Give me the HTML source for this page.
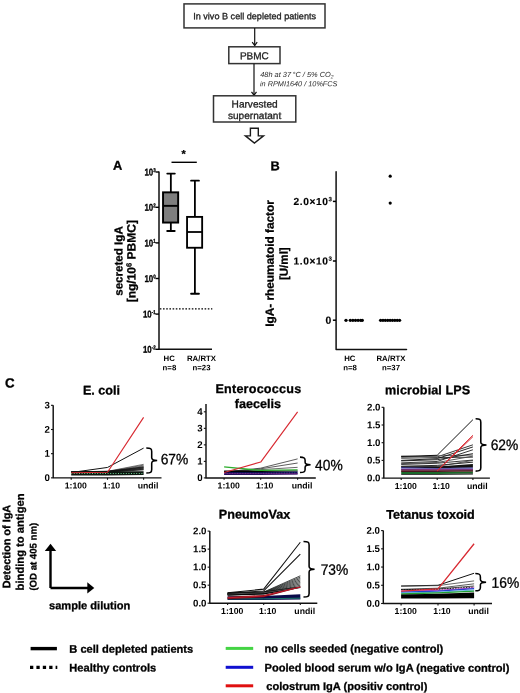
<!DOCTYPE html>
<html><head><meta charset="utf-8"><title>Figure</title>
<style>
html,body{margin:0;padding:0;background:#fff;width:520px;height:693px;overflow:hidden}
svg{display:block;will-change:transform}
text{font-family:"Liberation Sans", sans-serif;stroke-width:0.3px}
</style></head><body>
<svg width="520" height="693" viewBox="0 0 520 693">
<rect x="184" y="3.9" width="141" height="24.0" fill="none" stroke="#333" stroke-width="1.5"/>
<text transform="translate(254.6,19.3) rotate(0.05)" text-anchor="middle" fill="#222" stroke="#222" style="font-size:9.1px" >In vivo B cell depleted patients</text>
<line x1="254.7" y1="28" x2="254.7" y2="45.5" stroke="#111" stroke-width="1.2" />
<polyline points="252.20,42.20 254.70,45.60 257.20,42.20" fill="none" stroke="#111" stroke-width="1.2" />
<rect x="228.8" y="46.8" width="51.2" height="16.8" fill="none" stroke="#333" stroke-width="1.5"/>
<text transform="translate(254.4,59.3) rotate(0.05)" text-anchor="middle" fill="#222" stroke="#222" style="font-size:10px" >PBMC</text>
<line x1="254" y1="63.8" x2="254" y2="95" stroke="#111" stroke-width="1.2" />
<polyline points="251.50,91.80 254.00,95.20 256.50,91.80" fill="none" stroke="#111" stroke-width="1.2" />
<text transform="translate(260.2,77) rotate(0.05)" text-anchor="start" fill="#2a2a2a" stroke="none" style="font-size:7.4px;font-style:italic" >48h at 37&#8201;°C / 5% CO<tspan dy="1.5" style="font-size:5px">2</tspan></text>
<text transform="translate(260.0,86.2) rotate(0.05)" text-anchor="start" fill="#2a2a2a" stroke="none" style="font-size:7.3px;font-style:italic" >in RPMI1640 / 10%FCS</text>
<rect x="213.5" y="95.8" width="82.3" height="26.2" fill="none" stroke="#333" stroke-width="1.5"/>
<text transform="translate(254.6,107.4) rotate(0.05)" text-anchor="middle" fill="#222" stroke="#222" style="font-size:10.1px" >Harvested</text>
<text transform="translate(254.6,118.9) rotate(0.05)" text-anchor="middle" fill="#222" stroke="#222" style="font-size:10.1px" >supernatant</text>
<path d="M250.4,128.2 L258.3,128.2 L258.3,135.9 L263.5,135.9 L254.4,143.1 L245.4,135.9 L250.4,135.9 Z" fill="#fff" stroke="#1a1a1a" stroke-width="1.4" stroke-linejoin="miter"/>
<text transform="translate(113,169.8) rotate(0.05)" text-anchor="start" fill="#000" stroke="#000" style="font-size:12.8px;font-weight:bold" >A</text>
<path d="M159,171.5 L159,349.3 L212,349.3" fill="none" stroke="#111" stroke-width="1.5" stroke-linejoin="round"/>
<line x1="155.5" y1="172.0" x2="159.0" y2="172.0" stroke="#000" stroke-width="1.4" />
<text stroke="#000" transform="translate(155.7,175.50) scale(0.8,1) rotate(0.05)" text-anchor="end" style="font-size:9.9px;font-weight:bold">10<tspan dy="-3.6" style="font-size:5.6px">3</tspan></text>
<line x1="155.5" y1="207.3" x2="159.0" y2="207.3" stroke="#000" stroke-width="1.4" />
<text stroke="#000" transform="translate(155.7,210.80) scale(0.8,1) rotate(0.05)" text-anchor="end" style="font-size:9.9px;font-weight:bold">10<tspan dy="-3.6" style="font-size:5.6px">2</tspan></text>
<line x1="155.5" y1="242.9" x2="159.0" y2="242.9" stroke="#000" stroke-width="1.4" />
<text stroke="#000" transform="translate(155.7,246.40) scale(0.8,1) rotate(0.05)" text-anchor="end" style="font-size:9.9px;font-weight:bold">10<tspan dy="-3.6" style="font-size:5.6px">1</tspan></text>
<line x1="155.5" y1="278.5" x2="159.0" y2="278.5" stroke="#000" stroke-width="1.4" />
<text stroke="#000" transform="translate(155.7,282.00) scale(0.8,1) rotate(0.05)" text-anchor="end" style="font-size:9.9px;font-weight:bold">10<tspan dy="-3.6" style="font-size:5.6px">0</tspan></text>
<line x1="155.5" y1="314.1" x2="159.0" y2="314.1" stroke="#000" stroke-width="1.4" />
<text stroke="#000" transform="translate(155.7,317.60) scale(0.8,1) rotate(0.05)" text-anchor="end" style="font-size:9.9px;font-weight:bold">10<tspan dy="-3.6" style="font-size:5.6px">-1</tspan></text>
<line x1="155.5" y1="349.3" x2="159.0" y2="349.3" stroke="#000" stroke-width="1.4" />
<text stroke="#000" transform="translate(155.7,352.80) scale(0.8,1) rotate(0.05)" text-anchor="end" style="font-size:9.9px;font-weight:bold">10<tspan dy="-3.6" style="font-size:5.6px">-2</tspan></text>
<line x1="170.85" y1="173.6" x2="170.85" y2="231.0" stroke="#000" stroke-width="1.8" />
<line x1="167.3" y1="173.6" x2="174.8" y2="173.6" stroke="#000" stroke-width="1.9" stroke-linecap="round"/>
<line x1="167.2" y1="231.0" x2="174.7" y2="231.0" stroke="#000" stroke-width="1.9" stroke-linecap="round"/>
<rect x="163.05" y="192.35" width="15.1" height="30.2" fill="#7e7e7e" stroke="#000" stroke-width="1.95"/>
<line x1="163.05" y1="205.85" x2="178.15" y2="205.85" stroke="#000" stroke-width="1.9" />
<line x1="194.9" y1="180.65" x2="194.9" y2="293.75" stroke="#000" stroke-width="1.8" />
<line x1="191.1" y1="180.65" x2="198.9" y2="180.65" stroke="#000" stroke-width="1.9" stroke-linecap="round"/>
<line x1="191.1" y1="293.75" x2="198.9" y2="293.75" stroke="#000" stroke-width="1.9" stroke-linecap="round"/>
<rect x="187.05" y="216.9" width="15.1" height="30.85" fill="#fff" stroke="#000" stroke-width="1.85"/>
<line x1="187.05" y1="232.0" x2="202.15" y2="232.0" stroke="#000" stroke-width="1.8" />
<line x1="171.5" y1="162.3" x2="196.8" y2="162.3" stroke="#000" stroke-width="1.4" />
<text transform="translate(183.7,157.4) rotate(0.05)" text-anchor="middle" fill="#000" stroke="#000" style="font-size:10.8px;font-weight:bold" >*</text>
<line x1="159.8" y1="308.9" x2="212.3" y2="308.9" stroke="#000" stroke-width="1.35" stroke-dasharray="1.6 1.6"/>
<text transform="translate(169.2,361.0) rotate(0.05)" text-anchor="middle" fill="#000" stroke="none" style="font-size:7.8px;font-weight:bold" >HC</text>
<text transform="translate(169.4,370.2) rotate(0.05)" text-anchor="middle" fill="#000" stroke="none" style="font-size:7.8px;font-weight:bold" >n=8</text>
<text transform="translate(201.5,361.0) rotate(0.05)" text-anchor="middle" fill="#000" stroke="none" style="font-size:7.8px;font-weight:bold" >RA/RTX</text>
<text transform="translate(201.5,370.2) rotate(0.05)" text-anchor="middle" fill="#000" stroke="none" style="font-size:7.8px;font-weight:bold" >n=23</text>
<text stroke="#000" transform="translate(122.5,261) rotate(-89.95)" text-anchor="middle" style="font-size:11.6px;font-weight:bold">secreted IgA</text>
<text stroke="#000" transform="translate(135.5,261.2) rotate(-89.95)" text-anchor="middle" style="font-size:12.0px;font-weight:bold">[ng/10<tspan dy="-4" style="font-size:7.5px">6</tspan><tspan dy="4"> PBMC]</tspan></text>
<text transform="translate(270.5,170.2) rotate(0.05)" text-anchor="start" fill="#000" stroke="#000" style="font-size:12.8px;font-weight:bold" >B</text>
<path d="M336.1,171.8 L336.1,349.6 L406.5,349.6" fill="none" stroke="#111" stroke-width="1.5" stroke-linejoin="round" stroke-linecap="round"/>
<line x1="332.9" y1="201.4" x2="336.0" y2="201.4" stroke="#000" stroke-width="1.5" />
<text stroke="#000" transform="translate(332.0,205.0) rotate(0.05)" text-anchor="end" style="font-size:10.2px;font-weight:bold;letter-spacing:0.6px;stroke-width:0.15px">2.0×10<tspan dy="-3.8" style="font-size:6.2px;letter-spacing:0">3</tspan></text>
<line x1="332.9" y1="261.0" x2="336.0" y2="261.0" stroke="#000" stroke-width="1.5" />
<text stroke="#000" transform="translate(332.0,264.6) rotate(0.05)" text-anchor="end" style="font-size:10.2px;font-weight:bold;letter-spacing:0.6px;stroke-width:0.15px">1.0×10<tspan dy="-3.8" style="font-size:6.2px;letter-spacing:0">3</tspan></text>
<line x1="332.9" y1="320.2" x2="336.0" y2="320.2" stroke="#000" stroke-width="1.5" />
<text stroke="#000" transform="translate(331.2,323.8) rotate(0.05)" text-anchor="end" style="font-size:10.4px;font-weight:bold;stroke-width:0.15px">0</text>
<circle cx="390.2" cy="176.2" r="1.6" fill="#000"/>
<circle cx="390.2" cy="203.1" r="1.6" fill="#000"/>
<circle cx="346.0" cy="320.3" r="1.65" fill="#000"/>
<circle cx="350.3" cy="320.3" r="1.65" fill="#000"/>
<circle cx="352.9" cy="320.3" r="1.65" fill="#000"/>
<circle cx="355.5" cy="320.3" r="1.65" fill="#000"/>
<circle cx="358.1" cy="320.3" r="1.65" fill="#000"/>
<circle cx="360.7" cy="320.3" r="1.65" fill="#000"/>
<circle cx="362.3" cy="320.3" r="1.65" fill="#000"/>
<circle cx="380.60" cy="320.3" r="1.65" fill="#000"/>
<circle cx="382.98" cy="320.3" r="1.65" fill="#000"/>
<circle cx="385.35" cy="320.3" r="1.65" fill="#000"/>
<circle cx="387.73" cy="320.3" r="1.65" fill="#000"/>
<circle cx="390.10" cy="320.3" r="1.65" fill="#000"/>
<circle cx="392.48" cy="320.3" r="1.65" fill="#000"/>
<circle cx="394.85" cy="320.3" r="1.65" fill="#000"/>
<circle cx="397.23" cy="320.3" r="1.65" fill="#000"/>
<circle cx="399.60" cy="320.3" r="1.65" fill="#000"/>
<text transform="translate(349.8,361.0) rotate(0.05)" text-anchor="middle" fill="#000" stroke="none" style="font-size:7.8px;font-weight:bold" >HC</text>
<text transform="translate(350.0,370.2) rotate(0.05)" text-anchor="middle" fill="#000" stroke="none" style="font-size:7.8px;font-weight:bold" >n=8</text>
<text transform="translate(391.0,361.0) rotate(0.05)" text-anchor="middle" fill="#000" stroke="none" style="font-size:7.8px;font-weight:bold" >RA/RTX</text>
<text transform="translate(391.0,370.2) rotate(0.05)" text-anchor="middle" fill="#000" stroke="none" style="font-size:7.8px;font-weight:bold" >n=37</text>
<text stroke="#000" transform="translate(273.8,263.5) rotate(-89.95)" text-anchor="middle" style="font-size:11.8px;font-weight:bold">IgA- rheumatoid factor</text>
<text stroke="#000" transform="translate(287.8,263.7) rotate(-89.95)" text-anchor="middle" style="font-size:11.6px;font-weight:bold">[U/ml]</text>
<text transform="translate(5.0,387.5) rotate(0.05)" text-anchor="start" fill="#000" stroke="#000" style="font-size:13.3px;font-weight:bold" >C</text>
<polyline points="71.20,472.53 107.50,471.81 143.60,466.73" fill="none" stroke="#444" stroke-width="0.7"  stroke-linejoin="round"/>
<polyline points="71.20,472.29 107.50,471.64 143.60,465.92" fill="none" stroke="#444" stroke-width="0.7"  stroke-linejoin="round"/>
<polyline points="71.20,472.05 107.50,471.48 143.60,465.12" fill="none" stroke="#444" stroke-width="0.7"  stroke-linejoin="round"/>
<polyline points="71.20,471.81 107.50,471.32 143.60,464.31" fill="none" stroke="#444" stroke-width="0.7"  stroke-linejoin="round"/>
<polyline points="71.20,473.01 107.50,472.05 143.60,469.87" fill="none" stroke="#111" stroke-width="0.8"  stroke-linejoin="round"/>
<polyline points="71.20,472.77 107.50,471.90 143.60,469.29" fill="none" stroke="#111" stroke-width="0.8"  stroke-linejoin="round"/>
<polyline points="71.20,472.53 107.50,471.76 143.60,468.71" fill="none" stroke="#111" stroke-width="0.8"  stroke-linejoin="round"/>
<polyline points="71.20,472.29 107.50,471.61 143.60,468.13" fill="none" stroke="#111" stroke-width="0.8"  stroke-linejoin="round"/>
<polyline points="71.20,472.05 107.50,471.47 143.60,467.55" fill="none" stroke="#111" stroke-width="0.8"  stroke-linejoin="round"/>
<polyline points="71.20,471.81 107.50,471.32 143.60,466.97" fill="none" stroke="#111" stroke-width="0.8"  stroke-linejoin="round"/>
<polygon points="71.20,471.32 107.50,471.32 143.60,471.32 143.60,474.95 107.50,475.43 71.20,475.43" fill="#0b160f"/>
<polyline points="71.20,473.50 107.50,473.50 143.60,473.50" fill="none" stroke="#6fcf8f" stroke-width="1.0" stroke-dasharray="1 1.6" stroke-linejoin="round"/>
<polyline points="71.20,472.53 107.50,467.45 143.60,448.11" fill="none" stroke="#111" stroke-width="1.0"  stroke-linejoin="round"/>
<polyline points="71.20,472.77 107.50,472.29 143.60,417.40" fill="none" stroke="#d82a32" stroke-width="1.15"  stroke-linejoin="round"/>
<path d="M53.2,405.3 L53.2,477.85 L161.5,477.85" fill="none" stroke="#111" stroke-width="1.45" stroke-linejoin="round"/>
<line x1="51.0" y1="477.85" x2="53.2" y2="477.85" stroke="#111" stroke-width="1.1" />
<text transform="translate(49.900000000000006,481.05) rotate(0.05)" text-anchor="end" stroke="none" style="font-size:9.7px;font-weight:bold">0</text>
<line x1="51.0" y1="453.67" x2="53.2" y2="453.67" stroke="#111" stroke-width="1.1" />
<text transform="translate(49.900000000000006,456.87) rotate(0.05)" text-anchor="end" stroke="none" style="font-size:9.7px;font-weight:bold">1</text>
<line x1="51.0" y1="429.49" x2="53.2" y2="429.49" stroke="#111" stroke-width="1.1" />
<text transform="translate(49.900000000000006,432.69) rotate(0.05)" text-anchor="end" stroke="none" style="font-size:9.7px;font-weight:bold">2</text>
<line x1="51.0" y1="405.31000000000006" x2="53.2" y2="405.31000000000006" stroke="#111" stroke-width="1.1" />
<text transform="translate(49.900000000000006,408.51000000000005) rotate(0.05)" text-anchor="end" stroke="none" style="font-size:9.7px;font-weight:bold">3</text>
<line x1="71.2" y1="477.85" x2="71.2" y2="479.75" stroke="#111" stroke-width="1.1" />
<line x1="107.5" y1="477.85" x2="107.5" y2="479.75" stroke="#111" stroke-width="1.1" />
<line x1="143.6" y1="477.85" x2="143.6" y2="479.75" stroke="#111" stroke-width="1.1" />
<text transform="translate(75.8,488.5) rotate(0.05)" text-anchor="middle" fill="#000" stroke="none" style="font-size:8.7px;font-weight:bold" >1:100</text>
<text transform="translate(111.5,488.5) rotate(0.05)" text-anchor="middle" fill="#000" stroke="none" style="font-size:8.7px;font-weight:bold" >1:10</text>
<text transform="translate(148.0,488.5) rotate(0.05)" text-anchor="middle" fill="#000" stroke="none" style="font-size:8.7px;font-weight:bold" >undil</text>
<text transform="translate(101.5,394.6) rotate(0.05)" text-anchor="middle" fill="#000" stroke="#000" style="font-size:12.6px;font-weight:bold" >E. coli</text>
<path d="M146.3,448.0 C150.5,448.0 151.7,448.6 151.7,451.4 L151.7,457.78 Q151.7,460.5 157.2,460.5 Q151.7,460.5 151.7,463.22 L151.7,469.6 C151.7,472.4 150.5,473.0 146.3,473.0" fill="none" stroke="#000" stroke-width="1.55"/>
<text stroke="#000" transform="translate(160.70,464.2) scale(0.92,1) rotate(0.05)" style="font-size:15px">67%</text>
<polyline points="224.10,472.12 260.70,468.15 297.60,458.90" fill="none" stroke="#333" stroke-width="0.8"  stroke-linejoin="round"/>
<polyline points="224.10,472.12 260.70,468.81 297.60,463.03" fill="none" stroke="#333" stroke-width="0.8"  stroke-linejoin="round"/>
<polyline points="224.10,472.12 260.70,469.64 297.60,467.33" fill="none" stroke="#444" stroke-width="0.8"  stroke-linejoin="round"/>
<polygon points="224.10,470.47 260.70,470.47 297.60,470.47 297.60,471.62 260.70,472.12 224.10,472.12" fill="#000"/>
<polygon points="224.10,472.12 260.70,472.12 297.60,471.62 297.60,474.60 260.70,475.09 224.10,475.09" fill="#0c0c50"/>
<polyline points="224.10,473.44 260.70,473.44 297.60,473.11" fill="none" stroke="#6a8acf" stroke-width="0.9" stroke-dasharray="1 1.6" stroke-linejoin="round"/>
<polyline points="224.10,473.77 260.70,473.77 297.60,473.77" fill="none" stroke="#6a1a7a" stroke-width="1.0"  stroke-linejoin="round"/>
<polyline points="224.10,466.83 260.70,470.47 297.60,469.97" fill="none" stroke="#2eae2e" stroke-width="1.3"  stroke-linejoin="round"/>
<polyline points="224.10,472.45 260.70,462.04 297.60,411.82" fill="none" stroke="#d82a32" stroke-width="1.15"  stroke-linejoin="round"/>
<path d="M206.0,404.1 L206.0,477.9 L315.8,477.9" fill="none" stroke="#111" stroke-width="1.45" stroke-linejoin="round"/>
<line x1="203.8" y1="477.9" x2="206.0" y2="477.9" stroke="#111" stroke-width="1.1" />
<text transform="translate(202.7,481.09999999999997) rotate(0.05)" text-anchor="end" stroke="none" style="font-size:9.7px;font-weight:bold">0</text>
<line x1="203.8" y1="461.38" x2="206.0" y2="461.38" stroke="#111" stroke-width="1.1" />
<text transform="translate(202.7,464.58) rotate(0.05)" text-anchor="end" stroke="none" style="font-size:9.7px;font-weight:bold">1</text>
<line x1="203.8" y1="444.85999999999996" x2="206.0" y2="444.85999999999996" stroke="#111" stroke-width="1.1" />
<text transform="translate(202.7,448.05999999999995) rotate(0.05)" text-anchor="end" stroke="none" style="font-size:9.7px;font-weight:bold">2</text>
<line x1="203.8" y1="428.34" x2="206.0" y2="428.34" stroke="#111" stroke-width="1.1" />
<text transform="translate(202.7,431.53999999999996) rotate(0.05)" text-anchor="end" stroke="none" style="font-size:9.7px;font-weight:bold">3</text>
<line x1="203.8" y1="411.82" x2="206.0" y2="411.82" stroke="#111" stroke-width="1.1" />
<text transform="translate(202.7,415.02) rotate(0.05)" text-anchor="end" stroke="none" style="font-size:9.7px;font-weight:bold">4</text>
<line x1="224.1" y1="477.9" x2="224.1" y2="479.79999999999995" stroke="#111" stroke-width="1.1" />
<line x1="260.7" y1="477.9" x2="260.7" y2="479.79999999999995" stroke="#111" stroke-width="1.1" />
<line x1="297.6" y1="477.9" x2="297.6" y2="479.79999999999995" stroke="#111" stroke-width="1.1" />
<text transform="translate(228.7,488.6) rotate(0.05)" text-anchor="middle" fill="#000" stroke="none" style="font-size:8.7px;font-weight:bold" >1:100</text>
<text transform="translate(264.7,488.6) rotate(0.05)" text-anchor="middle" fill="#000" stroke="none" style="font-size:8.7px;font-weight:bold" >1:10</text>
<text transform="translate(302.0,488.6) rotate(0.05)" text-anchor="middle" fill="#000" stroke="none" style="font-size:8.7px;font-weight:bold" >undil</text>
<text transform="translate(258.4,393.0) rotate(0.05)" text-anchor="middle" fill="#000" stroke="#000" style="font-size:12.6px;font-weight:bold" ><tspan style="letter-spacing:0.22px">Enterococcus</tspan></text>
<text transform="translate(257.8,408.1) rotate(0.05)" text-anchor="middle" fill="#000" stroke="#000" style="font-size:12.6px;font-weight:bold" >faecelis</text>
<path d="M300.0,457.1 C303.90000000000003,457.1 305.1,457.70000000000005 305.1,460.18 L305.1,462.336 Q305.1,464.8 310.6,464.8 Q305.1,464.8 305.1,467.264 L305.1,469.42 C305.1,471.9 303.90000000000003,472.5 300.0,472.5" fill="none" stroke="#000" stroke-width="1.55"/>
<text stroke="#000" transform="translate(315.05,470.2) scale(0.92,1) rotate(0.05)" style="font-size:15px">40%</text>
<polyline points="401.20,456.15 437.20,456.86 472.90,444.82" fill="none" stroke="#222" stroke-width="0.9"  stroke-linejoin="round"/>
<polyline points="401.20,457.39 437.20,455.80 472.90,455.09" fill="none" stroke="#555" stroke-width="0.9"  stroke-linejoin="round"/>
<polyline points="401.20,458.28 437.20,457.57 472.90,457.21" fill="none" stroke="#333" stroke-width="0.9"  stroke-linejoin="round"/>
<polyline points="401.20,460.40 437.20,458.63 472.90,446.95" fill="none" stroke="#111" stroke-width="0.9"  stroke-linejoin="round"/>
<polyline points="401.20,460.93 437.20,459.69 472.90,453.67" fill="none" stroke="#111" stroke-width="0.9"  stroke-linejoin="round"/>
<polyline points="401.20,462.88 437.20,461.46 472.90,449.78" fill="none" stroke="#222" stroke-width="0.9"  stroke-linejoin="round"/>
<polyline points="401.20,463.59 437.20,462.52 472.90,456.15" fill="none" stroke="#444" stroke-width="0.9"  stroke-linejoin="round"/>
<polyline points="401.20,464.47 437.20,463.23 472.90,460.05" fill="none" stroke="#222" stroke-width="0.9"  stroke-linejoin="round"/>
<polyline points="401.20,466.24 437.20,465.36 472.90,462.17" fill="none" stroke="#111" stroke-width="0.9"  stroke-linejoin="round"/>
<polyline points="401.20,466.77 437.20,466.42 472.90,460.40" fill="none" stroke="#333" stroke-width="0.8"  stroke-linejoin="round"/>
<polygon points="401.20,466.60 437.20,466.42 472.90,463.94 472.90,467.48 437.20,468.19 401.20,467.48" fill="#111"/>
<polygon points="401.20,467.30 437.20,468.01 472.90,467.48 472.90,470.31 437.20,470.31 401.20,470.14" fill="#1a1a80"/>
<polyline points="401.20,468.72 437.20,469.07 472.90,468.90" fill="none" stroke="#d8c8ee" stroke-width="0.8"  stroke-linejoin="round"/>
<polyline points="401.20,469.78 437.20,469.78 472.90,469.78" fill="none" stroke="#902060" stroke-width="0.9"  stroke-linejoin="round"/>
<polygon points="401.20,470.49 437.20,470.49 472.90,470.31 472.90,471.37 437.20,472.08 401.20,472.08" fill="#151010"/>
<polygon points="401.20,472.08 437.20,472.08 472.90,471.37 472.90,473.50 437.20,474.03 401.20,474.03" fill="#1a6a2a"/>
<polygon points="401.20,474.03 437.20,474.03 472.90,473.50 472.90,474.56 437.20,474.74 401.20,474.74" fill="#000"/>
<polyline points="401.20,456.51 437.20,455.27 472.90,419.69" fill="none" stroke="#111" stroke-width="1.0"  stroke-linejoin="round"/>
<polyline points="401.20,471.02 437.20,471.02 472.90,471.02" fill="none" stroke="#7a1a2a" stroke-width="1.0"  stroke-linejoin="round"/>
<path d="M383.8,407.3 L383.8,478.1 L489.9,478.1" fill="none" stroke="#111" stroke-width="1.45" stroke-linejoin="round"/>
<line x1="381.6" y1="478.1" x2="383.8" y2="478.1" stroke="#111" stroke-width="1.1" />
<text transform="translate(380.5,481.3) rotate(0.05)" text-anchor="end" stroke="none" style="font-size:9.7px;font-weight:bold">0.0</text>
<line x1="381.6" y1="460.40000000000003" x2="383.8" y2="460.40000000000003" stroke="#111" stroke-width="1.1" />
<text transform="translate(380.5,463.6) rotate(0.05)" text-anchor="end" stroke="none" style="font-size:9.7px;font-weight:bold">0.5</text>
<line x1="381.6" y1="442.70000000000005" x2="383.8" y2="442.70000000000005" stroke="#111" stroke-width="1.1" />
<text transform="translate(380.5,445.90000000000003) rotate(0.05)" text-anchor="end" stroke="none" style="font-size:9.7px;font-weight:bold">1.0</text>
<line x1="381.6" y1="425.0" x2="383.8" y2="425.0" stroke="#111" stroke-width="1.1" />
<text transform="translate(380.5,428.2) rotate(0.05)" text-anchor="end" stroke="none" style="font-size:9.7px;font-weight:bold">1.5</text>
<line x1="381.6" y1="407.3" x2="383.8" y2="407.3" stroke="#111" stroke-width="1.1" />
<text transform="translate(380.5,410.5) rotate(0.05)" text-anchor="end" stroke="none" style="font-size:9.7px;font-weight:bold">2.0</text>
<line x1="401.2" y1="478.1" x2="401.2" y2="480.0" stroke="#111" stroke-width="1.1" />
<line x1="437.2" y1="478.1" x2="437.2" y2="480.0" stroke="#111" stroke-width="1.1" />
<line x1="472.9" y1="478.1" x2="472.9" y2="480.0" stroke="#111" stroke-width="1.1" />
<text transform="translate(405.8,489.1) rotate(0.05)" text-anchor="middle" fill="#000" stroke="none" style="font-size:8.7px;font-weight:bold" >1:100</text>
<text transform="translate(441.2,489.1) rotate(0.05)" text-anchor="middle" fill="#000" stroke="none" style="font-size:8.7px;font-weight:bold" >1:10</text>
<text transform="translate(477.3,489.1) rotate(0.05)" text-anchor="middle" fill="#000" stroke="none" style="font-size:8.7px;font-weight:bold" >undil</text>
<text transform="translate(427.7,394.2) rotate(0.05)" text-anchor="middle" fill="#000" stroke="#000" style="font-size:12.6px;font-weight:bold" ><tspan style="letter-spacing:0.1px">microbial LPS</tspan></text>
<polyline points="437.20,471.02 472.90,436.68" fill="none" stroke="#d82a32" stroke-width="1.0" />
<polyline points="437.20,470.67 472.90,435.27" fill="none" stroke="#d82a32" stroke-width="1.0" />
<path d="M475.6,418.8 C479.6,418.8 480.8,419.40000000000003 480.8,422.2 L480.8,442.23 Q480.8,444.95000000000005 486.5,444.95000000000005 Q480.8,444.95000000000005 480.8,447.6700000000001 L480.8,467.70000000000005 C480.8,470.5 479.6,471.1 475.6,471.1" fill="none" stroke="#000" stroke-width="1.55"/>
<text stroke="#000" transform="translate(490.65,450.0) scale(0.92,1) rotate(0.05)" style="font-size:15px">62%</text>
<polygon points="227.60,596.35 263.70,595.99 300.30,594.37 300.30,599.60 263.70,599.96 227.60,600.10" fill="#0a0a4a"/>
<polyline points="227.60,598.87 263.70,598.87 300.30,598.15" fill="none" stroke="#1a7a6a" stroke-width="1.0"  stroke-linejoin="round"/>
<polyline points="227.60,593.47 263.70,592.02 300.30,575.80" fill="none" stroke="#1c1f1e" stroke-width="0.8"  stroke-linejoin="round"/>
<polyline points="227.60,593.67 263.70,592.28 300.30,577.14" fill="none" stroke="#1c1f1e" stroke-width="0.8"  stroke-linejoin="round"/>
<polyline points="227.60,593.88 263.70,592.54 300.30,578.48" fill="none" stroke="#1c1f1e" stroke-width="0.8"  stroke-linejoin="round"/>
<polyline points="227.60,594.08 263.70,592.80 300.30,579.82" fill="none" stroke="#1c1f1e" stroke-width="0.8"  stroke-linejoin="round"/>
<polyline points="227.60,594.29 263.70,593.05 300.30,581.16" fill="none" stroke="#1c1f1e" stroke-width="0.8"  stroke-linejoin="round"/>
<polyline points="227.60,594.50 263.70,593.31 300.30,582.50" fill="none" stroke="#1c1f1e" stroke-width="0.8"  stroke-linejoin="round"/>
<polyline points="227.60,594.70 263.70,593.57 300.30,583.84" fill="none" stroke="#1c1f1e" stroke-width="0.8"  stroke-linejoin="round"/>
<polyline points="227.60,594.91 263.70,593.83 300.30,585.18" fill="none" stroke="#1c1f1e" stroke-width="0.8"  stroke-linejoin="round"/>
<polygon points="227.60,592.75 263.70,591.66 300.30,586.26 300.30,588.06 263.70,594.55 227.60,595.63" fill="#050505"/>
<polyline points="227.60,594.01 263.70,592.75 300.30,587.34" fill="none" stroke="#777" stroke-width="0.6"  stroke-linejoin="round"/>
<polygon points="227.60,596.71 263.70,594.91 300.30,586.44 300.30,587.52 263.70,597.25 227.60,599.23" fill="#7a0c16"/>
<polyline points="227.60,597.79 263.70,595.99 300.30,586.98" fill="none" stroke="#c81c2c" stroke-width="0.9"  stroke-linejoin="round"/>
<polyline points="227.60,592.75 263.70,589.14 300.30,542.28" fill="none" stroke="#111" stroke-width="1.05"  stroke-linejoin="round"/>
<polyline points="227.60,593.11 263.70,590.94 300.30,554.17" fill="none" stroke="#111" stroke-width="1.05"  stroke-linejoin="round"/>
<path d="M209.8,531.1 L209.8,603.2 L317.3,603.2" fill="none" stroke="#111" stroke-width="1.45" stroke-linejoin="round"/>
<line x1="207.60000000000002" y1="603.2" x2="209.8" y2="603.2" stroke="#111" stroke-width="1.1" />
<text transform="translate(206.5,606.4000000000001) rotate(0.05)" text-anchor="end" stroke="none" style="font-size:9.7px;font-weight:bold">0.0</text>
<line x1="207.60000000000002" y1="585.1750000000001" x2="209.8" y2="585.1750000000001" stroke="#111" stroke-width="1.1" />
<text transform="translate(206.5,588.3750000000001) rotate(0.05)" text-anchor="end" stroke="none" style="font-size:9.7px;font-weight:bold">0.5</text>
<line x1="207.60000000000002" y1="567.1500000000001" x2="209.8" y2="567.1500000000001" stroke="#111" stroke-width="1.1" />
<text transform="translate(206.5,570.3500000000001) rotate(0.05)" text-anchor="end" stroke="none" style="font-size:9.7px;font-weight:bold">1.0</text>
<line x1="207.60000000000002" y1="549.125" x2="209.8" y2="549.125" stroke="#111" stroke-width="1.1" />
<text transform="translate(206.5,552.325) rotate(0.05)" text-anchor="end" stroke="none" style="font-size:9.7px;font-weight:bold">1.5</text>
<line x1="207.60000000000002" y1="531.1" x2="209.8" y2="531.1" stroke="#111" stroke-width="1.1" />
<text transform="translate(206.5,534.3000000000001) rotate(0.05)" text-anchor="end" stroke="none" style="font-size:9.7px;font-weight:bold">2.0</text>
<line x1="227.6" y1="603.2" x2="227.6" y2="605.1" stroke="#111" stroke-width="1.1" />
<line x1="263.7" y1="603.2" x2="263.7" y2="605.1" stroke="#111" stroke-width="1.1" />
<line x1="300.3" y1="603.2" x2="300.3" y2="605.1" stroke="#111" stroke-width="1.1" />
<text transform="translate(232.2,614.0) rotate(0.05)" text-anchor="middle" fill="#000" stroke="none" style="font-size:8.7px;font-weight:bold" >1:100</text>
<text transform="translate(267.7,614.0) rotate(0.05)" text-anchor="middle" fill="#000" stroke="none" style="font-size:8.7px;font-weight:bold" >1:10</text>
<text transform="translate(304.7,614.0) rotate(0.05)" text-anchor="middle" fill="#000" stroke="none" style="font-size:8.7px;font-weight:bold" >undil</text>
<text transform="translate(254.5,518.6) rotate(0.05)" text-anchor="middle" fill="#000" stroke="#000" style="font-size:12.6px;font-weight:bold" >PneumoVax</text>
<path d="M303.5,541.5 C307.90000000000003,541.5 309.1,542.1 309.1,544.9 L309.1,566.53 Q309.1,569.25 314.6,569.25 Q309.1,569.25 309.1,571.97 L309.1,593.6 C309.1,596.4 307.90000000000003,597.0 303.5,597.0" fill="none" stroke="#000" stroke-width="1.55"/>
<text stroke="#000" transform="translate(320.65,574.7) scale(0.92,1) rotate(0.05)" style="font-size:15px">73%</text>
<polyline points="401.10,586.00 438.00,585.27 474.10,573.25" fill="none" stroke="#111" stroke-width="1.0"  stroke-linejoin="round"/>
<polyline points="401.10,586.19 438.00,585.64 474.10,580.90" fill="none" stroke="#444" stroke-width="0.8"  stroke-linejoin="round"/>
<polyline points="401.10,589.28 438.00,588.19 474.10,583.82" fill="none" stroke="#333" stroke-width="0.8"  stroke-linejoin="round"/>
<polyline points="401.10,589.65 438.00,588.92 474.10,586.00" fill="none" stroke="#222" stroke-width="0.8"  stroke-linejoin="round"/>
<polyline points="401.10,589.65 438.00,589.28 474.10,587.10" fill="none" stroke="#111" stroke-width="1.0" stroke-dasharray="1.5 1.2" stroke-linejoin="round"/>
<polyline points="401.10,591.11 438.00,590.38 474.10,587.83" fill="none" stroke="#c040c0" stroke-width="1.0"  stroke-linejoin="round"/>
<polyline points="401.10,592.20 438.00,591.11 474.10,588.56" fill="none" stroke="#2040d0" stroke-width="1.3"  stroke-linejoin="round"/>
<polyline points="401.10,592.93 438.00,592.20 474.10,590.01" fill="none" stroke="#50b0e0" stroke-width="0.9"  stroke-linejoin="round"/>
<polyline points="401.10,594.02 438.00,592.93 474.10,591.11" fill="none" stroke="#20a030" stroke-width="1.3"  stroke-linejoin="round"/>
<polygon points="401.10,594.39 438.00,593.66 474.10,592.57 474.10,598.21 438.00,598.40 401.10,598.40" fill="#000"/>
<polyline points="401.10,591.11 438.00,588.92 474.10,543.72" fill="none" stroke="#d82a32" stroke-width="1.3"  stroke-linejoin="round"/>
<path d="M383.3,530.6 L383.3,603.5 L492.0,603.5" fill="none" stroke="#111" stroke-width="1.45" stroke-linejoin="round"/>
<line x1="381.1" y1="603.5" x2="383.3" y2="603.5" stroke="#111" stroke-width="1.1" />
<text transform="translate(380.0,606.7) rotate(0.05)" text-anchor="end" stroke="none" style="font-size:9.7px;font-weight:bold">0.0</text>
<line x1="381.1" y1="585.275" x2="383.3" y2="585.275" stroke="#111" stroke-width="1.1" />
<text transform="translate(380.0,588.475) rotate(0.05)" text-anchor="end" stroke="none" style="font-size:9.7px;font-weight:bold">0.5</text>
<line x1="381.1" y1="567.05" x2="383.3" y2="567.05" stroke="#111" stroke-width="1.1" />
<text transform="translate(380.0,570.25) rotate(0.05)" text-anchor="end" stroke="none" style="font-size:9.7px;font-weight:bold">1.0</text>
<line x1="381.1" y1="548.825" x2="383.3" y2="548.825" stroke="#111" stroke-width="1.1" />
<text transform="translate(380.0,552.0250000000001) rotate(0.05)" text-anchor="end" stroke="none" style="font-size:9.7px;font-weight:bold">1.5</text>
<line x1="381.1" y1="530.6" x2="383.3" y2="530.6" stroke="#111" stroke-width="1.1" />
<text transform="translate(380.0,533.8000000000001) rotate(0.05)" text-anchor="end" stroke="none" style="font-size:9.7px;font-weight:bold">2.0</text>
<line x1="401.1" y1="603.5" x2="401.1" y2="605.4" stroke="#111" stroke-width="1.1" />
<line x1="438.0" y1="603.5" x2="438.0" y2="605.4" stroke="#111" stroke-width="1.1" />
<line x1="474.1" y1="603.5" x2="474.1" y2="605.4" stroke="#111" stroke-width="1.1" />
<text transform="translate(405.7,614.1) rotate(0.05)" text-anchor="middle" fill="#000" stroke="none" style="font-size:8.7px;font-weight:bold" >1:100</text>
<text transform="translate(442.0,614.1) rotate(0.05)" text-anchor="middle" fill="#000" stroke="none" style="font-size:8.7px;font-weight:bold" >1:10</text>
<text transform="translate(478.5,614.1) rotate(0.05)" text-anchor="middle" fill="#000" stroke="none" style="font-size:8.7px;font-weight:bold" >undil</text>
<text transform="translate(430.5,518.8) rotate(0.05)" text-anchor="middle" fill="#000" stroke="#000" style="font-size:12.6px;font-weight:bold" >Tetanus toxoid</text>
<path d="M475.3,573.5 C479.2,573.5 480.4,574.1 480.4,576.9 L480.4,579.43 Q480.4,582.15 486.1,582.15 Q480.4,582.15 480.4,584.87 L480.4,587.4 C480.4,590.1999999999999 479.2,590.8 475.3,590.8" fill="none" stroke="#000" stroke-width="1.55"/>
<text stroke="#000" transform="translate(491.55,587.7) scale(0.92,1) rotate(0.05)" style="font-size:15px">16%</text>
<text stroke="#000" transform="translate(10.2,588.3) rotate(-89.95)" style="font-size:10.9px;font-weight:bold">Detection of IgA</text>
<text stroke="#000" transform="translate(23.8,590.4) rotate(-89.95)" style="font-size:11.2px;font-weight:bold">binding to antigen</text>
<text stroke="#000" transform="translate(36.4,590.6) rotate(-89.95)" style="font-size:9.6px;font-weight:bold">(OD at 405 nm)</text>
<path d="M50.5,588 L50.5,550 M50.5,588 L88,588" fill="none" stroke="#000" stroke-width="2.4"/>
<path d="M44.8,551 L50.5,543.7 L56.2,551 Z" fill="#000"/>
<path d="M87.3,582.3 L94.3,588 L87.3,593.6 Z" fill="#000"/>
<text transform="translate(49.0,609.2) rotate(0.05)" text-anchor="start" fill="#000" stroke="#000" style="font-size:11.1px;font-weight:bold" >sample dilution</text>
<line x1="30.6" y1="648.6" x2="56.9" y2="648.6" stroke="#000" stroke-width="3.4" />
<line x1="30.0" y1="667.4" x2="57.3" y2="667.4" stroke="#000" stroke-width="3.3" stroke-dasharray="3.3 3.1"/>
<text transform="translate(69.3,652.7) rotate(0.05)" text-anchor="start" fill="#000" stroke="#000" style="font-size:11.1px;font-weight:bold" >B cell depleted patients</text>
<text transform="translate(69.3,671.5) rotate(0.05)" text-anchor="start" fill="#000" stroke="#000" style="font-size:11.1px;font-weight:bold" >Healthy controls</text>
<line x1="225.7" y1="648.4" x2="253.2" y2="648.4" stroke="#44d444" stroke-width="3.0" />
<line x1="225.7" y1="667.3" x2="253.2" y2="667.3" stroke="#1010d0" stroke-width="3.0" />
<line x1="225.7" y1="685.8" x2="253.2" y2="685.8" stroke="#e01010" stroke-width="3.0" />
<text transform="translate(264.5,652.3) rotate(0.05)" text-anchor="start" fill="#000" stroke="#000" style="font-size:11.1px;font-weight:bold" >no cells seeded (negative control)</text>
<text transform="translate(264.5,671.5) rotate(0.05)" text-anchor="start" fill="#000" stroke="#000" style="font-size:11.1px;font-weight:bold" >Pooled blood serum w/o IgA (negative control)</text>
<text transform="translate(266.3,690.0) rotate(0.05)" text-anchor="start" fill="#000" stroke="#000" style="font-size:11.1px;font-weight:bold" >colostrum IgA (positiv control)</text>
</svg>
</body></html>
